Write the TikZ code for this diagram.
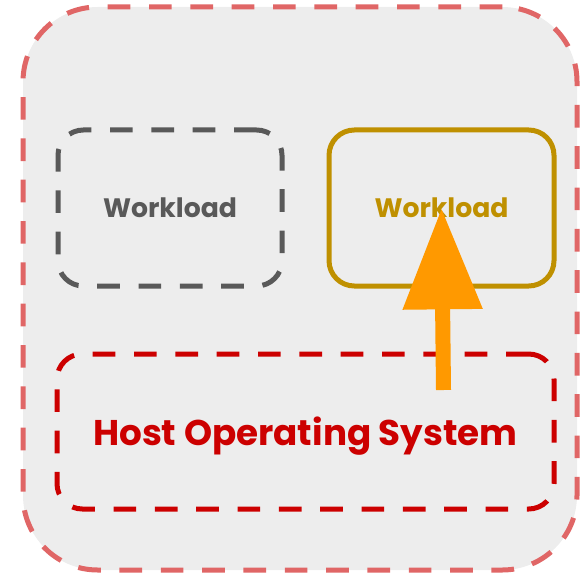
\documentclass[tikz,border=0pt]{standalone}
\usepackage{fontspec}
\setmainfont{Poppins}
\usetikzlibrary{arrows.meta}

\definecolor{outerred}{HTML}{E06666}
\definecolor{panelgray}{HTML}{EDEDED}
\definecolor{idlegray}{HTML}{595959}
\definecolor{activegold}{HTML}{BF9000}
\definecolor{hostred}{HTML}{CC0000}
\definecolor{callorange}{HTML}{FF9900}

\begin{document}
\begin{tikzpicture}[x=0.75pt,y=-0.75pt,
  box/.style={rounded corners=19pt, line width=3.75pt, inner sep=0pt, font=\bfseries},
  dashbox/.style={box, dash pattern=on 17pt off 14pt},
  call/.style={-{Triangle[length=76pt,width=57pt]}, line width=11.25pt, callorange}]
\useasboundingbox (0,0) rectangle (581,574);

% machine
\node[dashbox, draw=outerred, fill=panelgray, rounded corners=56pt,
      minimum width=415.5pt, minimum height=422.25pt] (machine) at (300,288.5) {};

% workloads
\node[dashbox, draw=idlegray, text=idlegray, font=\bfseries\fontsize{20}{24}\selectfont,
      minimum width=168pt, minimum height=117pt] (wlidle) at (170,208) {Workload};
\node[box, draw=activegold, text=activegold, font=\bfseries\fontsize{20}{24}\selectfont,
      minimum width=168.75pt, minimum height=117pt] (wlactive) at (441.5,208) {Workload};

% host os
\node[dashbox, draw=hostred, text=hostred, font=\bfseries\fontsize{26.8}{32}\selectfont,
      text depth=0pt, minimum width=372.75pt, minimum height=116.25pt] (host) at (305.5,431.5)
      {Host Operating System};

\coordinate (callbase) at (443.5,390);
\draw[call] (callbase) -- (wlactive.center);
\end{tikzpicture}
\end{document}
